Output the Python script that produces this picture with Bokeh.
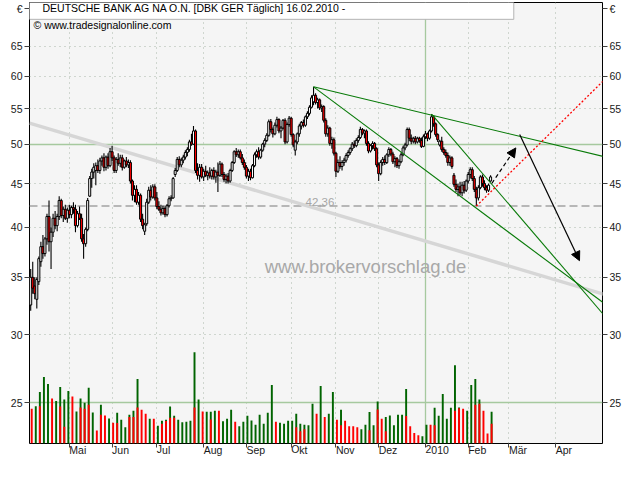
import pandas as pd
from bokeh.plotting import figure
from bokeh.models import (Range1d, LinearScale, LogAxis, FixedTicker, Grid, Span, Label,
                          BoxAnnotation, Arrow, NormalHead, ColumnDataSource, BasicTickFormatter)
from bokeh.embed import file_html
from bokeh.resources import INLINE

# ---------------- data ----------------
first_day = "2009-04-06"          # first candle, one candle per weekday
opens = [32.5,35.0,34.2,33.0,34.6,36.5,38.0,37.3,38.8,41.2,38.5,39.5,41.0,40.2,41.2,43.0,41.3,42.0,41.0,41.9,
         41.4,42.2,42.0,40.2,41.5,41.0,38.8,38.3,39.8,43.5,45.6,46.4,46.6,47.2,46.6,47.8,48.2,47.0,48.3,47.2,
         49.0,48.2,46.6,48.0,47.5,48.2,47.0,47.8,47.3,47.6,45.3,43.6,44.3,42.8,43.6,40.9,39.6,40.4,42.8,44.2,
         43.4,44.6,43.3,42.3,42.0,41.6,42.1,41.4,42.4,43.2,43.3,46.1,46.6,48.0,47.3,47.9,48.3,48.9,49.3,50.3,
         50.0,51.8,46.6,46.0,47.0,45.8,46.5,46.0,46.3,45.9,46.6,45.8,46.4,46.0,47.4,46.1,45.5,45.9,45.3,46.6,
         47.6,49.0,48.6,49.0,48.2,47.6,47.0,45.9,46.5,45.7,47.2,48.6,49.0,48.3,49.2,50.0,50.5,51.2,53.1,52.0,
         51.4,52.6,53.4,51.8,52.2,53.3,50.3,52.7,53.6,51.3,49.2,50.3,51.4,52.5,53.0,52.6,53.8,54.3,55.2,56.0,
         57.0,55.9,56.3,55.1,55.3,53.3,51.4,52.2,50.1,50.6,48.8,46.5,47.6,47.1,47.6,47.9,48.5,48.9,49.4,50.0,
         49.8,50.5,50.9,52.0,51.5,51.8,50.1,49.1,49.8,50.1,49.4,47.3,46.2,47.6,48.0,47.6,48.6,49.3,48.7,47.7,
         48.1,47.2,47.7,48.6,49.5,49.9,52.0,50.8,50.4,50.8,50.3,50.8,50.5,49.7,51.0,51.4,50.8,51.8,53.8,52.8,
         51.3,49.9,50.4,49.3,48.9,48.5,47.6,48.2,46.0,44.9,44.3,44.6,43.9,44.8,44.2,45.3,46.1,46.7,45.6,44.3,
         43.3,44.5,45.8,45.0,44.5,44.2,45.3]
highs = [35.8,36.5,35.0,35.0,37.0,38.5,39.2,39.0,41.5,43.0,40.0,41.5,41.8,41.5,43.5,43.2,42.3,42.5,42.2,42.5,
         42.4,42.8,42.5,41.8,42.3,41.5,39.3,40.0,43.3,45.9,46.8,47.5,47.6,48.0,48.2,48.5,48.8,48.5,48.8,49.5,
         49.8,48.5,48.3,48.8,48.6,48.6,48.0,48.3,48.0,47.9,45.5,44.8,44.8,44.0,43.8,41.5,40.5,43.2,44.6,44.8,
         44.9,44.9,44.0,42.9,42.5,42.4,42.3,42.6,43.5,43.6,45.8,46.9,48.3,48.4,48.2,48.6,49.2,49.6,50.6,51.4,
         52.5,52.0,47.5,47.4,47.4,46.8,47.2,46.6,47.0,46.8,47.0,46.7,47.6,47.8,47.6,46.4,46.2,46.3,46.8,47.8,
         49.2,49.5,49.3,49.3,48.7,48.0,47.3,46.8,46.8,47.4,48.9,49.3,49.6,49.4,50.2,50.8,51.5,53.4,53.5,52.3,
         53.0,53.8,53.6,52.5,53.5,53.6,53.0,53.9,53.8,51.5,50.6,51.6,52.8,53.2,53.4,54.0,54.6,55.5,57.0,58.3,
         57.3,56.6,56.5,55.6,55.5,53.6,52.6,52.4,51.0,50.9,49.0,48.0,48.4,47.9,48.2,48.8,49.2,49.6,50.3,50.5,
         50.8,51.2,52.4,52.2,52.0,52.0,50.4,50.0,50.4,50.3,49.6,47.6,47.9,48.3,48.5,48.8,49.6,49.5,49.0,48.4,
         48.3,48.0,48.9,49.8,50.2,52.3,52.3,51.3,51.0,51.1,51.0,51.0,50.9,51.3,51.8,51.6,52.0,54.2,54.0,53.0,
         51.5,50.6,51.0,49.6,49.3,48.9,48.5,48.4,46.3,45.5,45.0,45.2,45.2,45.3,45.5,46.4,47.0,47.0,45.9,44.6,
         44.8,46.0,46.1,45.4,44.8,45.0,46.0]
lows = [32.0,33.5,33.0,32.2,34.3,36.0,36.8,37.0,38.2,37.5,35.8,39.0,39.8,39.6,40.8,41.0,40.6,40.8,40.5,41.0,
        41.0,41.5,39.5,40.0,40.8,38.5,36.8,38.0,39.6,43.4,44.5,45.6,44.8,46.3,46.2,47.2,46.5,46.6,46.8,47.0,
        47.8,46.3,46.3,47.2,47.0,46.6,46.8,47.0,46.9,45.0,43.0,42.8,42.5,42.5,40.6,39.8,39.2,40.2,42.6,43.0,
        43.2,43.0,42.0,41.8,41.3,41.4,41.1,41.2,42.2,42.9,43.2,45.8,46.4,47.0,47.0,47.5,48.0,48.4,49.0,49.8,
        49.9,46.3,45.5,45.2,45.6,45.3,45.8,45.4,45.6,45.5,45.5,45.1,44.0,45.8,45.8,45.2,45.0,45.0,45.1,46.4,
        47.4,48.3,48.2,48.0,47.3,46.7,45.6,45.3,45.4,45.6,47.0,48.2,48.0,48.1,49.0,49.6,50.3,51.0,51.6,50.9,
        51.2,52.3,51.5,50.8,52.0,50.0,50.1,52.4,51.0,49.6,48.5,50.0,51.0,52.0,52.3,52.4,53.5,54.0,55.0,55.5,
        55.6,55.0,54.8,54.5,53.0,51.0,51.0,49.8,49.4,48.5,45.8,46.3,46.8,46.6,47.2,47.6,48.2,48.6,49.1,49.5,
        49.6,50.2,50.7,51.2,50.8,49.8,48.8,48.9,49.3,49.1,47.0,45.3,46.0,47.2,47.3,47.4,48.3,48.4,47.4,47.0,
        46.9,46.8,47.5,48.4,49.2,49.7,50.4,50.0,50.1,50.0,50.1,50.2,49.5,49.6,50.7,50.4,50.6,51.6,52.4,51.0,
        50.3,49.7,49.0,48.6,48.2,47.2,47.2,46.8,44.6,44.0,43.5,43.6,43.5,43.8,44.0,45.0,45.6,45.3,44.0,42.36,
        43.0,44.3,44.6,44.2,43.9,44.0,45.2]
closes = [35.0,34.0,33.5,34.8,36.8,38.0,37.3,38.8,41.2,38.5,39.5,41.0,40.2,41.2,43.0,41.3,42.0,41.0,41.9,41.4,
          42.2,42.0,40.2,41.5,41.0,38.8,38.3,39.8,43.0,45.6,46.4,47.0,47.2,46.6,47.8,48.2,47.0,48.3,47.2,49.0,
          48.2,46.6,48.0,47.5,48.2,47.0,47.8,47.3,47.6,45.3,43.6,44.3,42.8,43.6,40.9,40.2,40.3,42.8,44.2,43.4,
          44.6,43.3,42.3,42.0,41.6,42.1,41.4,42.4,43.2,43.3,45.6,46.6,48.0,47.3,47.9,48.3,48.9,49.3,50.3,50.0,
          51.8,46.6,46.0,47.0,45.8,46.5,46.0,46.3,45.9,46.6,45.8,46.4,46.0,47.4,46.1,45.5,45.9,45.3,46.6,47.6,
          49.0,48.6,49.0,48.2,47.6,47.0,45.9,46.5,45.7,47.2,48.6,49.0,48.3,49.2,50.0,50.5,51.2,53.1,52.0,51.4,
          52.6,53.4,51.8,52.2,53.3,50.3,52.7,53.6,51.3,49.9,50.3,51.4,52.5,53.0,52.6,53.8,54.3,55.2,56.6,57.0,
          55.9,56.3,55.1,55.3,53.3,51.4,52.2,50.1,50.6,48.8,46.5,47.6,47.1,47.6,47.9,48.5,48.9,49.4,50.0,49.8,
          50.5,50.9,52.0,51.5,51.8,50.1,49.1,49.8,50.1,49.4,47.3,46.2,47.6,48.0,47.6,48.6,49.3,48.7,47.7,48.1,
          47.2,47.7,48.6,49.5,49.9,52.0,50.8,50.4,50.8,50.3,50.8,50.5,49.7,51.0,51.4,50.8,51.8,53.8,52.8,51.3,
          50.6,50.4,49.3,48.9,48.5,47.6,48.2,47.1,44.9,44.3,44.6,43.9,44.8,44.2,45.3,46.1,46.7,45.6,44.3,43.3,
          44.5,45.8,45.0,44.5,44.2,44.8,45.8]

# volume, one bar per pair of trading days (Mio.); green = up day, red = down day
vol_green = [0,11.3,15.6,20.1,18.0,0,12.9,17.1,13.3,15.9,0,9.7,13.6,12.3,16.9,9.4,0,11.7,0,7.6,
             0,9.3,7.2,4.9,8.7,9.9,19.5,0,0,7.5,0,5.4,6.9,7.2,11.2,8.4,7.2,6.4,6.6,6.9,
             27.6,13.3,0,9.6,9.6,9.9,0,6.7,7.5,10.2,0,5.2,6.6,8.4,7.0,5.7,8.7,6.0,9.3,17.7,
             0,6.3,6.0,6.9,6.9,9.0,6.0,5.7,5.5,12.0,0,17.4,0,9.0,15.6,0,10.2,0,0,0,
             0,4.3,5.7,9.5,5.5,12.7,0,8.0,8.5,5.5,8.7,8.7,16.5,0,0,0,2.2,5.7,0,10.8,
             8.4,15.0,7.5,10.8,23.7,10.9,0,9.9,17.7,19.5,13.3,0,0,9.6]
vol_red = [10.5,0,11.3,0,0,13.6,0,11.2,5.1,0,14.2,0,10.9,10.5,11.7,0,3.9,8.7,8.5,0,
           6.3,6.2,0,0,8.0,8.0,10.9,10.2,9.0,0,7.5,0,6.0,6.8,7.8,7.8,0,0,0,0,
           10.9,0,9.7,0,7.3,0,9.9,0,0,0,6.6,0,0,0,0,0,0,0,0,0,
           6.6,0,0,0,0,4.9,3.7,4.3,0,0,9.0,0,8.0,0,0,7.2,5.5,6.9,5.2,5.2,
           4.9,0,0,4.0,0,10.3,7.5,3.7,0,0,0,0,8.3,5.2,3.2,2.5,0,0,5.7,5.5,
           0,0,0,0,9.9,10.7,10.5,0,0,11.7,12.0,9.9,3.0,6.0]

month_starts = ["2009-05-01", "2009-06-01", "2009-07-01", "2009-08-01", "2009-09-01", "2009-10-01",
                "2009-11-01", "2009-12-01", "2010-01-01", "2010-02-01", "2010-03-01", "2010-04-01"]
month_labels = ["Mai", "Jun", "Jul", "Aug", "Sep", "Okt", "Nov", "Dez", "2010", "Feb", "Mär", "Apr"]
price_ticks = [25, 30, 35, 40, 45, 50, 55, 60, 65]
currency_tick, currency_label = 71.9, "€"

# chart-drawn annotations (trading-day index, price)
longterm_x, longterm_y = [-0.6, 284.4], [52.9, 33.3]
trend_a_x, trend_a_y = [139, 284.4], [58.3, 48.2]
trend_b_x, trend_b_y = [139, 284.4], [58.3, 32.3]
trend_c_x, trend_c_y = [197, 284.4], [54.2, 31.1]
support_x, support_y = [219, 284.4], [42.36, 60.2]
support_level = 42.36
arrow_up = (226.6, 45.0, 238.4, 49.5)
arrow_down = (240.3, 51.3, 269.7, 36.6)

# ---------------- figure ----------------
FONT = "Liberation Sans"
days = pd.bdate_range(first_day, "2010-04-30")
month_idx = [int(days.searchsorted(pd.Timestamp(m))) for m in month_starts]
x_lo, x_hi = -0.59, 281.0
y_lo, y_hi = 22.43, 73.07

p = figure(width=624, height=464, output_backend="svg", toolbar_location=None,
           y_axis_type="log", x_range=Range1d(x_lo, x_hi), y_range=Range1d(y_lo, y_hi),
           min_border_left=29, min_border_right=20, min_border_bottom=17, min_border_top=2,
           background_fill_color="#f5f5f5", border_fill_color="white",
           outline_line_color="black", outline_line_width=1)
p.extra_y_ranges = {"vol": Range1d(0, 133.5)}
p.extra_y_scales = {"vol": LinearScale()}

# grids
p.xgrid.visible = False
p.ygrid.visible = False
grid_col = "#a9b6a9"
dotted_months = [t for t, l in zip(month_idx, month_labels) if l != "2010"]
solid_months = [t for t, l in zip(month_idx, month_labels) if l == "2010"]
p.add_layout(Grid(dimension=0, ticker=FixedTicker(ticks=dotted_months), grid_line_color=grid_col,
                  grid_line_dash="1 4", grid_line_width=1))
p.add_layout(Grid(dimension=0, ticker=FixedTicker(ticks=solid_months), grid_line_color="#a6c99f",
                  grid_line_width=1.3))
p.add_layout(Grid(dimension=1, ticker=FixedTicker(ticks=[t for t in price_ticks if t not in (25, 50)]),
                  grid_line_color=grid_col, grid_line_dash="1 4", grid_line_width=1))
p.add_layout(Grid(dimension=1, ticker=FixedTicker(ticks=[25, 50]), grid_line_color="#a6c99f",
                  grid_line_width=1.3))

# axes
def style_axis(ax):
    ax.axis_line_color = None
    ax.major_tick_line_color = "#404040"
    ax.major_tick_out = 5
    ax.major_tick_in = 0
    ax.minor_tick_line_color = None
    ax.major_label_text_font = FONT
    ax.major_label_text_font_size = "10.5px"
    ax.major_label_text_color = "#1a1a1a"
    ax.major_label_standoff = 2

yl = p.yaxis[0]
yl.ticker = FixedTicker(ticks=price_ticks + [currency_tick])
yl.formatter = BasicTickFormatter()
yl.major_label_overrides = {currency_tick: currency_label}
style_axis(yl)
yr = LogAxis(ticker=FixedTicker(ticks=price_ticks + [currency_tick]), formatter=BasicTickFormatter(),
             major_label_overrides={currency_tick: currency_label})
style_axis(yr)
p.add_layout(yr, "right")

xa = p.xaxis[0]
xa.ticker = FixedTicker(ticks=month_idx)
xa.major_label_overrides = {t: l for t, l in zip(month_idx, month_labels)}
style_axis(xa)
xa.major_tick_out = 4
xa.major_label_standoff = 2
xa.major_label_orientation = -0.0001

# long-term grey line and support level
p.line(longterm_x, longterm_y, line_color="#d6d6d6", line_width=3.5)
p.add_layout(Span(location=support_level, dimension="width", line_color="#a3a3a3",
                  line_dash="8 4", line_width=1.5, level="underlay"))

# volume
vol_x = [2 * k + 0.5 for k in range(len(vol_green))]
p.vbar(x=vol_x, width=0.95, top=vol_green, bottom=0, fill_color="#006400", line_color=None,
       y_range_name="vol")
p.vbar(x=vol_x, width=0.95, top=vol_red, bottom=0, fill_color="#ff0000", line_color=None,
       y_range_name="vol")

# candles
idx = list(range(len(closes)))
src = ColumnDataSource(dict(
    x=idx, h=highs, l=lows,
    top=[max(o, c) for o, c in zip(opens, closes)],
    bottom=[min(o, c) for o, c in zip(opens, closes)],
    color=["#ffffff" if c >= o else "#ff0000" for o, c in zip(opens, closes)]))
p.segment(x0="x", y0="l", x1="x", y1="h", source=src, line_color="black", line_width=1.1)
p.vbar(x="x", width=1.0, top="top", bottom="bottom", source=src, fill_color="color",
       line_color="black", line_width=1)

# trend lines
for tx, ty in [(trend_a_x, trend_a_y), (trend_b_x, trend_b_y), (trend_c_x, trend_c_y)]:
    p.line(tx, ty, line_color="#087a08", line_width=1.1)
p.line(support_x, support_y, line_color="#ff0000", line_width=1.3, line_dash="2 2")

p.add_layout(Arrow(end=NormalHead(size=9, fill_color="black", line_color="black"),
                   x_start=arrow_up[0], y_start=arrow_up[1], x_end=arrow_up[2], y_end=arrow_up[3],
                   line_color="black", line_width=1.2, line_dash="4 3"))
p.add_layout(Arrow(end=NormalHead(size=9, fill_color="black", line_color="black"),
                   x_start=arrow_down[0], y_start=arrow_down[1], x_end=arrow_down[2], y_end=arrow_down[3],
                   line_color="black", line_width=1.2))

# labels
p.add_layout(Label(x=135.1, y=support_level, text="42,36", text_font=FONT, text_font_size="11.5px",
                   text_color="#a6a6a6", text_baseline="bottom", y_offset=0))
p.add_layout(Label(x=115, y=36.05, text="www.brokervorschlag.de", text_font=FONT,
                   text_font_size="18.5px", text_color="#a8a8a8", text_baseline="alphabetic"))

# title box
p.add_layout(BoxAnnotation(left=x_lo, right=237.4, top=y_hi, bottom=69.85, fill_color="white",
                           fill_alpha=1, line_color="#b4b4b4", line_alpha=1, line_width=1))
p.add_layout(Label(x=13, y=436, x_units="screen", y_units="screen",
                   text="DEUTSCHE BANK AG NA O.N. [DBK GER  Täglich] 16.02.2010 -",
                   text_font=FONT, text_font_size="10.5px", text_color="black", text_baseline="middle"))
p.add_layout(Label(x=4, y=419, x_units="screen", y_units="screen",
                   text="© www.tradesignalonline.com",
                   text_font=FONT, text_font_size="10.5px", text_color="black", text_baseline="middle"))

open("out.html", "w").write(file_html(p, INLINE))
